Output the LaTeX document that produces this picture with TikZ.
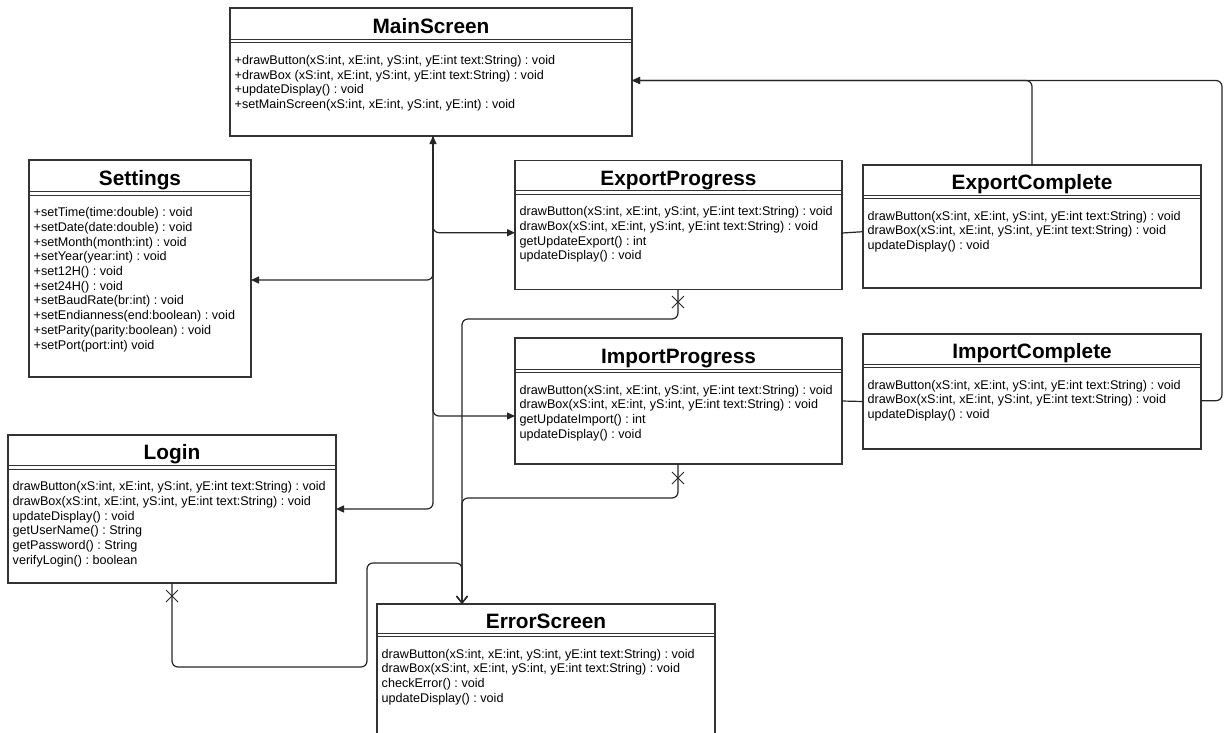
\documentclass[tikz,border=0pt]{standalone}
\usepackage{fontspec}
\setmainfont{Liberation Sans}
\usetikzlibrary{arrows.meta}
\frenchspacing

\tikzset{
  classbox/.style={draw=black!80, line width=1.2pt, fill=white, inner sep=0pt, outer sep=0pt},
  sepline/.style={draw=black!80, line width=1pt},
  titletext/.style={anchor=base, inner sep=0pt, font=\fontsize{20.8}{24}\selectfont\bfseries},
  mtext/.style={anchor=base west, inner sep=0pt, font=\fontsize{12.6}{14.7}\selectfont},
  conn/.style={draw=black!85, line width=1.2pt, rounded corners=6pt},
  solidhead/.style={-{Triangle[length=8pt,width=7pt]}},
  openhead/.style={-{Straight Barb[length=7pt,width=11pt]}},
  xmark/.style={draw=black!85, line width=0.9pt},
}

% #1 name, #2 left, #3 top, #4 right, #5 bottom, #6 title separator, #7 title, #8 methods
\newcommand\umlclass[8]{%
  \node[classbox, minimum width={#4-#2}, minimum height={#5-#3}] (#1) at ({(#2+#4)/2},{(#3+#5)/2}) {};
  \draw[sepline] (#2,#6) -- (#4,#6);
  \draw[sepline] (#2,{#6+3.3}) -- (#4,{#6+3.3});
  \node[titletext] (#1-title) at ({(#2+#4)/2},{(#3+#6)/2+9.5}) {#7};
  \foreach \mline [count=\k from 0] in {#8} {
    \node[mtext] (#1-m\k) at ({#2+4.5},{#6+25+14.7*\k}) {\mline};
  }
}

\begin{document}
\begin{tikzpicture}[x=1pt, y=-1pt]
\useasboundingbox (0,0) rectangle (1226,732);
\clip (0,0) rectangle (1226,732);
\fill[white] (0,0) rectangle (1226,732);

\umlclass{ms}{230}{8}{632}{136}{39.5}{MainScreen}{%
  {+drawButton(xS:int, xE:int, yS:int, yE:int text:String) : void},
  {+drawBox (xS:int, xE:int, yS:int, yE:int text:String) : void},
  {+updateDisplay() : void},
  {+setMainScreen(xS:int, xE:int, yS:int, yE:int) : void}}

\umlclass{set}{29}{160}{251}{377}{191.7}{Settings}{%
  {+setTime(time:double) : void},
  {+setDate(date:double) : void},
  {+setMonth(month:int) : void},
  {+setYear(year:int) : void},
  {+set12H() : void},
  {+set24H() : void},
  {+setBaudRate(br:int) : void},
  {+setEndianness(end:boolean) : void},
  {+setParity(parity:boolean) : void},
  {+setPort(port:int) void}}

\umlclass{ep}{515}{160.5}{842}{289.5}{190.7}{ExportProgress}{%
  {drawButton(xS:int, xE:int, yS:int, yE:int text:String) : void},
  {drawBox(xS:int, xE:int, yS:int, yE:int text:String) : void},
  {getUpdateExport() : int},
  {updateDisplay() : void}}

\umlclass{ec}{863}{165}{1201}{288}{195}{ExportComplete}{%
  {drawButton(xS:int, xE:int, yS:int, yE:int text:String) : void},
  {drawBox(xS:int, xE:int, yS:int, yE:int text:String) : void},
  {updateDisplay() : void}}

\umlclass{ip}{515}{338}{842}{464}{369}{ImportProgress}{%
  {drawButton(xS:int, xE:int, yS:int, yE:int text:String) : void},
  {drawBox(xS:int, xE:int, yS:int, yE:int text:String) : void},
  {getUpdateImport() : int},
  {updateDisplay() : void}}

\umlclass{ic}{863}{334}{1201}{449}{364}{ImportComplete}{%
  {drawButton(xS:int, xE:int, yS:int, yE:int text:String) : void},
  {drawBox(xS:int, xE:int, yS:int, yE:int text:String) : void},
  {updateDisplay() : void}}

\umlclass{lg}{8}{435}{336}{583}{465.7}{Login}{%
  {drawButton(xS:int, xE:int, yS:int, yE:int text:String) : void},
  {drawBox(xS:int, xE:int, yS:int, yE:int text:String) : void},
  {updateDisplay() : void},
  {getUserName() : String},
  {getPassword() : String},
  {verifyLogin() : boolean}}

\umlclass{es}{377}{604}{715}{745}{633}{ErrorScreen}{%
  {drawButton(xS:int, xE:int, yS:int, yE:int text:String) : void},
  {drawBox(xS:int, xE:int, yS:int, yE:int text:String) : void},
  {checkError() : void},
  {updateDisplay() : void}}

% MainScreen trunk and its branches
\draw[conn, {Triangle[length=8pt,width=7pt]}-{Triangle[length=8pt,width=7pt]}]
  ([xshift=203pt]ms.south west) |- (lg.east);
\draw[conn, solidhead] ([xshift=203pt]ms.south west) |- ([yshift=-11.5pt]set.east);
\draw[conn, solidhead] ([xshift=203pt]ms.south west) |- ([yshift=-7.7pt]ep.west);
\draw[conn, solidhead] ([xshift=203pt]ms.south west) |- ([yshift=-15pt]ip.west);

% completion screens back to MainScreen
\draw[conn, solidhead] ([xshift=169pt]ec.north west) |- ([yshift=-8.5pt]ms.east);
\draw[conn, solidhead] ([yshift=-9.2pt]ic.east) -- ++(21,0) |- ([yshift=-8.5pt]ms.east);

% progress to complete
\draw[conn] ([yshift=-8pt]ep.east) -- ([yshift=-5.2pt]ec.west);
\draw[conn] (ip.east) -- ([yshift=-10pt]ic.west);

% links into ErrorScreen
\draw[conn, openhead] ([xshift=163pt]ep.south west) -- ++(0,29.5) -| ([xshift=85pt]es.north west);
\draw[conn, openhead] ([xshift=163pt]ip.south west) -- ++(0,34) -| ([xshift=85pt]es.north west);
\draw[conn, openhead] ([xshift=164pt]lg.south west) -- ++(0,84) -| ++(195,-104) -| ([xshift=85pt]es.north west);

% crossing marks at the source ends
\draw[xmark] ([xshift=163pt,yshift=-12.5pt]ep.south west) ++(-6,-6) -- ++(12,12) ++(0,-12) -- ++(-12,12);
\draw[xmark] ([xshift=163pt,yshift=-14pt]ip.south west) ++(-6,-6) -- ++(12,12) ++(0,-12) -- ++(-12,12);
\draw[xmark] ([xshift=164pt,yshift=-13pt]lg.south west) ++(-6,-6) -- ++(12,12) ++(0,-12) -- ++(-12,12);
\end{tikzpicture}
\end{document}
